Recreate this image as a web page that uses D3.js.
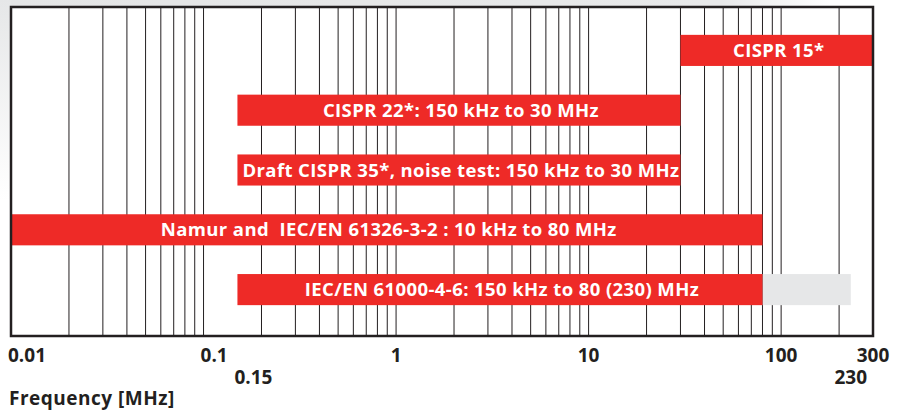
<!DOCTYPE html>
<html>
<head>
<meta charset="utf-8">
<script src="https://cdn.jsdelivr.net/npm/d3@7"></script>
<style>
  body { margin: 0; background: #fff; }
  svg { display: block; font-family: "Open Sans", "Liberation Sans", sans-serif; }
</style>
</head>
<body>
<div id="viz"></div>
<script>
// standards and their frequency ranges (MHz)
const standards = [
    "CISPR 15*",
    "CISPR 22*: 150 kHz to 30 MHz",
    "Draft CISPR 35*, noise test: 150 kHz to 30 MHz",
    "Namur and  IEC/EN 61326-3-2 : 10 kHz to 80 MHz",
    "IEC/EN 61000-4-6: 150 kHz to 80 (230) MHz"
];
const startMHz = [30, 0.15, 0.15, 0.01, 0.15];
const endMHz = [300, 30, 30, 80, 80];
const extendedMHz = [null, null, null, null, 230];  // grey optional range

const mainTicks = [0.01, 0.1, 1, 10, 100, 300];
const extraTicks = [0.15, 230];

const width = 902, height = 412;
const plotLeft = 11, plotRight = 873, plotTop = 7, plotBottom = 336;

const svg = d3.select("#viz")
    .append("svg")
    .attr("width", width)
    .attr("height", height);

const defs = svg.append("defs");
const topGrad = defs.append("linearGradient").attr("id", "topShade");
topGrad.append("stop").attr("offset", "0%").attr("stop-color", "#e4e5e6");
topGrad.append("stop").attr("offset", "80%").attr("stop-color", "#e8e9ea");
topGrad.append("stop").attr("offset", "92%").attr("stop-color", "#ffffff");
const leftGrad = defs.append("linearGradient").attr("id", "leftShade")
    .attr("x1", 0).attr("y1", 0).attr("x2", 0).attr("y2", 1);
leftGrad.append("stop").attr("offset", "0%").attr("stop-color", "#e6e7e8");
leftGrad.append("stop").attr("offset", "100%").attr("stop-color", "#ffffff");

// soft shading behind the frame
svg.append("rect").attr("x", 0).attr("y", 0).attr("width", width).attr("height", plotTop)
    .attr("fill", "url(#topShade)");
svg.append("rect").attr("x", 0).attr("y", 0).attr("width", plotLeft).attr("height", 200)
    .attr("fill", "url(#leftShade)");
svg.append("rect").attr("x", plotLeft).attr("y", plotTop)
    .attr("width", plotRight - plotLeft).attr("height", plotBottom - plotTop)
    .attr("fill", "#fff");

const x = d3.scaleLog()
    .domain([0.01, 300])
    .range([plotLeft, plotRight]);

const y = d3.scaleBand()
    .domain(standards)
    .range([20.5, 319.5])
    .paddingInner(0.48)
    .paddingOuter(0.24);

// grid lines, 1..9 per decade
const grid = x.ticks().filter(d => d > 0.01 && d < 300);
svg.append("g")
    .selectAll("line")
    .data(grid)
    .join("line")
    .attr("x1", d => x(d)).attr("x2", d => x(d))
    .attr("y1", plotTop).attr("y2", plotBottom)
    .attr("stroke", "#231f20")
    .attr("stroke-width", 1);

const bars = svg.append("g")
    .selectAll("g")
    .data(standards)
    .join("g");

// grey extension
bars.filter((d, i) => extendedMHz[i] !== null)
    .append("rect")
    .attr("x", d => x(endMHz[standards.indexOf(d)]))
    .attr("y", d => y(d))
    .attr("width", d => {
        const i = standards.indexOf(d);
        return x(extendedMHz[i]) - x(endMHz[i]);
    })
    .attr("height", y.bandwidth())
    .attr("fill", "#e6e7e8");

bars.append("rect")
    .attr("x", (d, i) => x(startMHz[i]))
    .attr("y", d => y(d))
    .attr("width", (d, i) => x(endMHz[i]) - x(startMHz[i]))
    .attr("height", y.bandwidth())
    .attr("fill", "#ee2a27");

bars.append("text")
    .text(d => d)
    .attr("x", (d, i) => (x(startMHz[i]) + x(endMHz[i])) / 2 + 2)
    .attr("y", d => y(d) + y.bandwidth() / 2)
    .attr("dy", "0.36em")
    .attr("text-anchor", "middle")
    .attr("fill", "#fff")
    .style("font-size", "18.5px")
    .style("font-weight", "bold")
    .style("letter-spacing", "0.4px")
    .style("white-space", "pre");

// frame
svg.append("rect")
    .attr("x", plotLeft).attr("y", plotTop)
    .attr("width", plotRight - plotLeft).attr("height", plotBottom - plotTop)
    .attr("fill", "none")
    .attr("stroke", "#231f20")
    .attr("stroke-width", 2.5);

function tickLabels(values, baseline) {
    svg.append("g")
        .selectAll("text")
        .data(values)
        .join("text")
        .text(d => d3.format("~g")(d))
        .attr("x", d => x(d))
        .attr("y", baseline)
        .attr("dx", d => d < 1 ? -3 : 0)
        .attr("text-anchor", d => d < 1 ? "start" : "middle")
        .attr("fill", "#231f20")
        .style("font-size", "19px")
        .style("font-weight", "bold");
}
tickLabels(mainTicks, 362);
tickLabels(extraTicks, 384);

svg.append("text")
    .text("Frequency [MHz]")
    .attr("x", 9)
    .attr("y", 405)
    .attr("fill", "#231f20")
    .style("font-size", "19px")
    .style("font-weight", "bold")
    .style("letter-spacing", "0.5px");
</script>
</body>
</html>
